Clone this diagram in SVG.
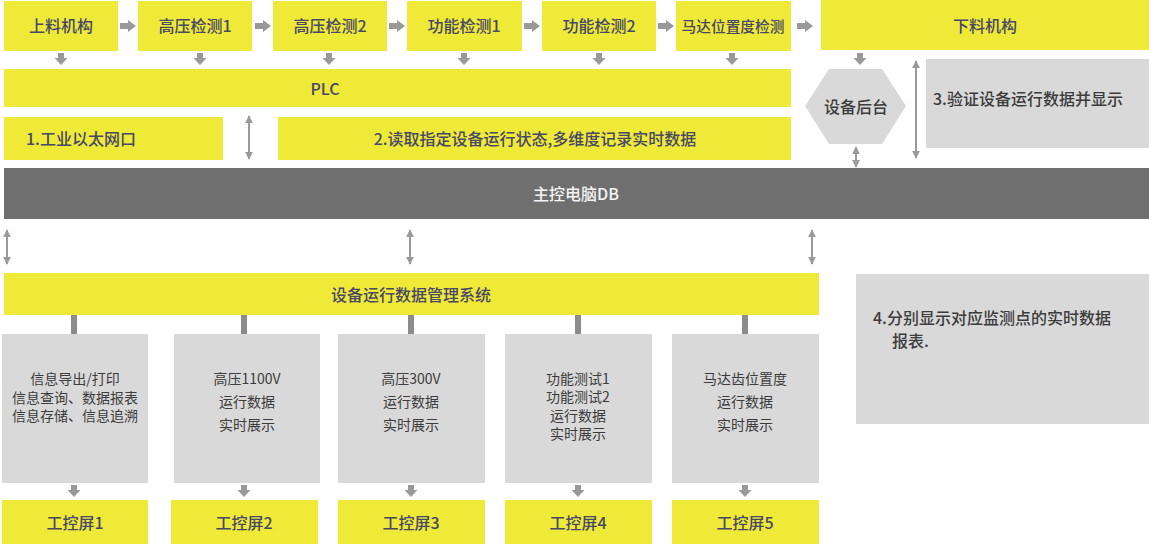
<svg xmlns="http://www.w3.org/2000/svg" width="1149" height="545" viewBox="0 0 1149 545">
<defs>
<style>
.y{fill:#efe937}
.g{fill:#d9d9d9}
.d{fill:#6f6f6f}
text{font-family:"Noto Sans CJK SC","Liberation Sans",sans-serif;font-size:16px;font-weight:500;dominant-baseline:central}
.ty{fill:#474768}
.tg{fill:#3c3c3c;font-size:14px;font-weight:400}
.tw{fill:#f4f4f4}
.tb{fill:#3c3c3c}
.c{text-anchor:middle}
.arr{fill:#999999}
.dbl{stroke:#9a9a9a;stroke-width:2;fill:none;marker-start:url(#ah);marker-end:url(#ah)}
.bar{stroke:#8c8c8c;stroke-width:6}
</style>
<marker id="ah" viewBox="0 0 10 10" refX="9" refY="5" markerWidth="4" markerHeight="4" orient="auto-start-reverse" markerUnits="strokeWidth">
<path d="M0,0 L10,5 L0,10 z" fill="#9a9a9a"/>
</marker>
<path id="ra" d="M0,-3 H8 V-6 L16,0 L8,6 V3 H0 z"/>
<path id="da" d="M-3,0 V5 H-6.5 L0,12 L6.5,5 H3 V0 z"/>
</defs>

<g id="n-shangliao"><rect class="y" x="4" y="1" width="114" height="50"/><text class="ty c" x="61" y="25">上料机构</text></g>
<g id="n-gaoya1"><rect class="y" x="138" y="1" width="114" height="50"/><text class="ty c" x="195" y="25">高压检测1</text></g>
<g id="n-gaoya2"><rect class="y" x="273" y="1" width="114" height="50"/><text class="ty c" x="330" y="25">高压检测2</text></g>
<g id="n-gongneng1"><rect class="y" x="407" y="1" width="115" height="50"/><text class="ty c" x="464" y="25">功能检测1</text></g>
<g id="n-gongneng2"><rect class="y" x="542" y="1" width="114" height="50"/><text class="ty c" x="599" y="25">功能检测2</text></g>
<g id="n-mada"><rect class="y" x="676" y="1" width="115" height="50"/><text class="ty c" x="733" y="25" style="font-size:14.7px">马达位置度检测</text></g>
<g id="n-xialiao"><rect class="y" x="821" y="0" width="328" height="50"/><text class="ty c" x="985" y="25">下料机构</text></g>

<g id="n-plc"><rect class="y" x="4" y="69" width="787" height="38"/><text class="ty c" x="325" y="88">PLC</text></g>
<g id="n-ethernet"><rect class="y" x="4" y="117" width="219" height="43"/><text class="ty" x="26" y="138">1.工业以太网口</text></g>
<g id="n-read"><rect class="y" x="278" y="117" width="513" height="43"/><text class="ty c" x="535" y="138">2.读取指定设备运行状态,多维度记录实时数据</text></g>
<g id="n-houtai"><polygon class="g" points="805,106 829,69 882,69 906,106 882,144 829,144"/><text class="tb c" x="856" y="106">设备后台</text></g>
<g id="n-verify"><rect class="g" x="926" y="59" width="223" height="89"/><text class="tb" x="933" y="98">3.验证设备运行数据并显示</text></g>

<g id="n-db"><rect class="d" x="4" y="168" width="1145" height="51"/><text class="tw c" x="576" y="193">主控电脑DB</text></g>

<g id="n-mgmt"><rect class="y" x="4" y="273" width="815" height="42"/><text class="ty c" x="411" y="294">设备运行数据管理系统</text></g>
<g id="n-report"><rect class="g" x="856" y="274" width="293" height="150"/><text class="tb" x="873" y="317">4.分别显示对应监测点的实时数据</text><text class="tb" x="892" y="340">报表.</text></g>

<g id="n-info1"><rect class="g" x="2" y="334" width="146" height="149"/>
<text class="tg c" x="75" y="378">信息导出/打印</text><text class="tg c" x="75" y="397">信息查询、数据报表</text><text class="tg c" x="75" y="415">信息存储、信息追溯</text></g>
<g id="n-info2"><rect class="g" x="174" y="334" width="146" height="149"/>
<text class="tg c" x="247" y="378">高压1100V</text><text class="tg c" x="247" y="401">运行数据</text><text class="tg c" x="247" y="424">实时展示</text></g>
<g id="n-info3"><rect class="g" x="338" y="334" width="147" height="149"/>
<text class="tg c" x="411" y="378">高压300V</text><text class="tg c" x="411" y="401">运行数据</text><text class="tg c" x="411" y="424">实时展示</text></g>
<g id="n-info4"><rect class="g" x="505" y="334" width="147" height="149"/>
<text class="tg c" x="578" y="378">功能测试1</text><text class="tg c" x="578" y="396">功能测试2</text><text class="tg c" x="578" y="415">运行数据</text><text class="tg c" x="578" y="433">实时展示</text></g>
<g id="n-info5"><rect class="g" x="672" y="334" width="147" height="149"/>
<text class="tg c" x="745" y="378">马达齿位置度</text><text class="tg c" x="745" y="401">运行数据</text><text class="tg c" x="745" y="424">实时展示</text></g>

<g id="n-screen1"><rect class="y" x="2" y="500" width="146" height="44"/><text class="ty c" x="75" y="522">工控屏1</text></g>
<g id="n-screen2"><rect class="y" x="171" y="500" width="147" height="44"/><text class="ty c" x="244" y="522">工控屏2</text></g>
<g id="n-screen3"><rect class="y" x="338" y="500" width="147" height="44"/><text class="ty c" x="411" y="522">工控屏3</text></g>
<g id="n-screen4"><rect class="y" x="505" y="500" width="147" height="44"/><text class="ty c" x="578" y="522">工控屏4</text></g>
<g id="n-screen5"><rect class="y" x="672" y="500" width="147" height="44"/><text class="ty c" x="745" y="522">工控屏5</text></g>

<g id="connectors">
<use href="#ra" class="arr" x="120" y="26"/>
<use href="#ra" class="arr" x="255" y="26"/>
<use href="#ra" class="arr" x="389" y="26"/>
<use href="#ra" class="arr" x="524" y="26"/>
<use href="#ra" class="arr" x="658" y="26"/>
<use href="#ra" class="arr" x="797" y="26"/>

<use href="#da" class="arr" x="61" y="53"/>
<use href="#da" class="arr" x="200" y="53"/>
<use href="#da" class="arr" x="329" y="53"/>
<use href="#da" class="arr" x="464" y="53"/>
<use href="#da" class="arr" x="599" y="53"/>
<use href="#da" class="arr" x="732" y="53"/>
<use href="#da" class="arr" x="860" y="53"/>

<line class="dbl" x1="249" y1="116" x2="249" y2="159"/>
<line class="dbl" x1="856" y1="147" x2="856" y2="167"/>
<line class="dbl" x1="916" y1="61" x2="916" y2="158"/>
<line class="dbl" x1="7" y1="230" x2="7" y2="264"/>
<line class="dbl" x1="410" y1="230" x2="410" y2="264"/>
<line class="dbl" x1="812" y1="230" x2="812" y2="264"/>

<line class="bar" x1="74" y1="315" x2="74" y2="334"/>
<line class="bar" x1="244" y1="315" x2="244" y2="334"/>
<line class="bar" x1="411" y1="315" x2="411" y2="334"/>
<line class="bar" x1="578" y1="315" x2="578" y2="334"/>
<line class="bar" x1="745" y1="315" x2="745" y2="334"/>

<use href="#da" class="arr" x="74" y="485"/>
<use href="#da" class="arr" x="244" y="485"/>
<use href="#da" class="arr" x="411" y="485"/>
<use href="#da" class="arr" x="578" y="485"/>
<use href="#da" class="arr" x="745" y="485"/>
</g>
</svg>
